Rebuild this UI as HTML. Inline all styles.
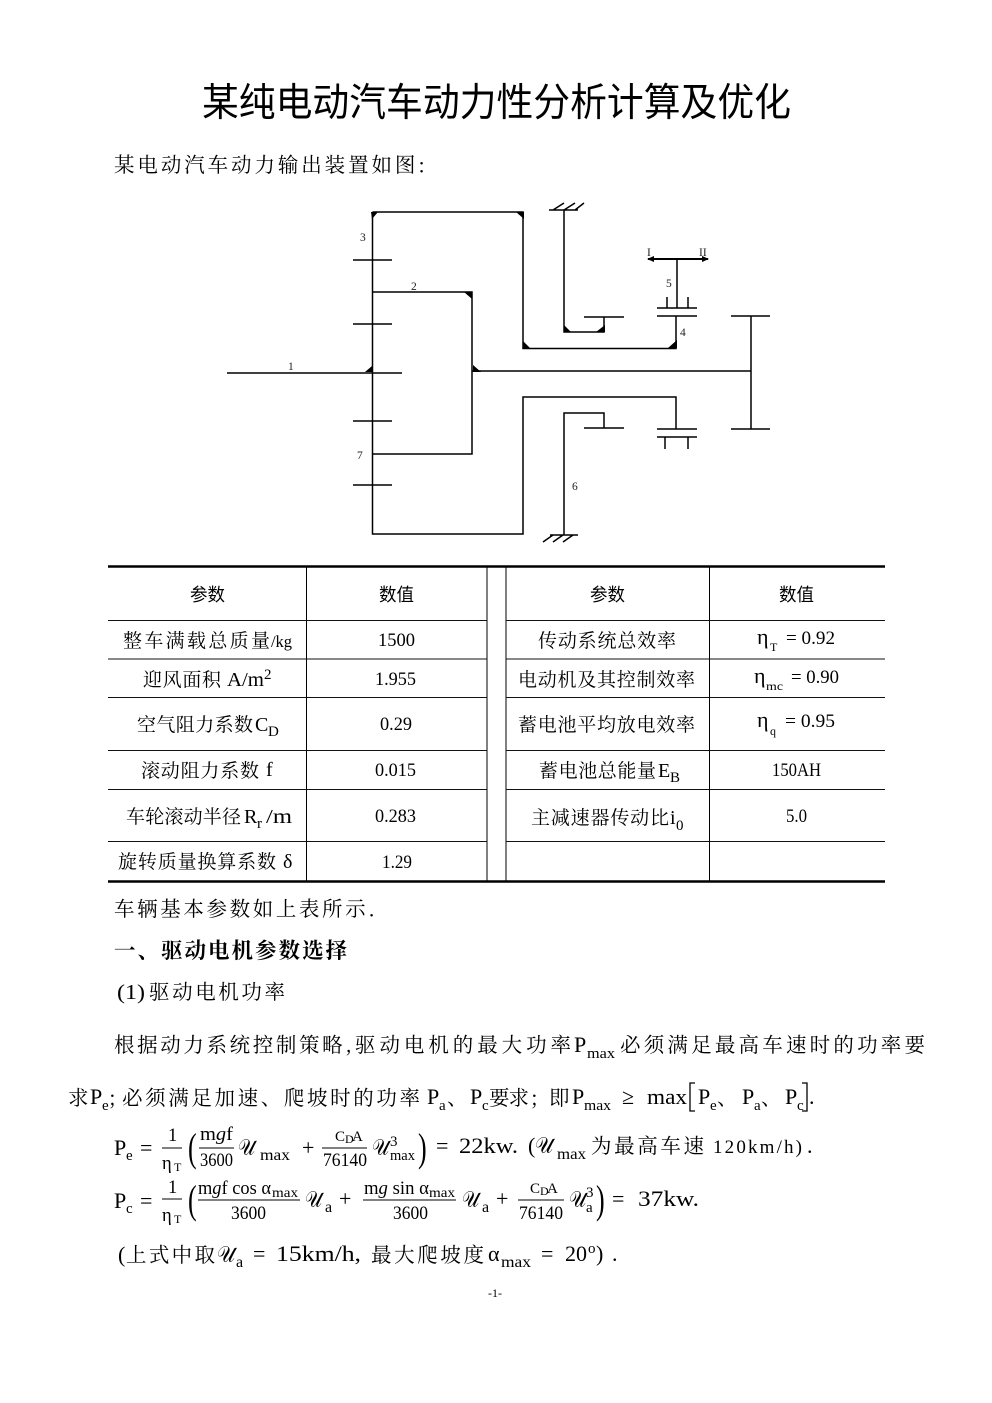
<!DOCTYPE html>
<html><head><meta charset="utf-8">
<style>
html,body{margin:0;padding:0;background:#fff}
svg{display:block}
text{fill:#000;font-family:"Liberation Serif","Noto Serif CJK SC",serif;font-size:22px}
.c{font-family:"Noto Serif CJK SC","Liberation Serif",serif;font-size:20.5px}
.t{font-family:"Noto Serif CJK SC","Liberation Serif",serif;font-size:19px}
.h{font-family:"Noto Sans CJK SC","Liberation Sans",sans-serif;font-size:18px}
.n{font-size:19px}
.la{font-size:20px}
.s{font-size:15px}
.ss{font-size:12px}
.f{font-size:18.5px}
.u{font-family:"DejaVu Serif","Liberation Serif",serif;font-size:23px}
.d{font-size:11.5px;fill:#222}
.l{stroke:#000;stroke-width:1.5;fill:none}
.r{stroke:#111;stroke-width:1.1}
</style></head>
<body>
<svg width="992" height="1403" viewBox="0 0 992 1403" xmlns="http://www.w3.org/2000/svg">
<rect width="992" height="1403" fill="#fff"/>
<text x="202" y="116" textLength="589" lengthAdjust="spacingAndGlyphs" style="font-family:'Noto Sans CJK SC','Liberation Sans',sans-serif;font-size:39px">某纯电动汽车动力性分析计算及优化</text>
<text class="c" x="114" y="172" textLength="311">某电动汽车动力输出装置如图:</text>

<!-- diagram -->
<g class="l">
<path d="M372.5 212H523V348.5H676V316"/>
<path d="M372.5 212V534H523V397H676V429"/>
<path d="M372.5 292H472V454H372.5"/>
<path d="M353 260H392M353 324H392M353 421H392M353 485H392"/>
<path d="M227 373H402"/>
<path d="M472 371H751"/>
<path d="M751 316V429M731 316H770M731 429H770"/>
<path d="M657 316H697M657 308H697M677 308V259"/>
<path d="M648 259H708" stroke-width="2"/>
<path d="M667 308V297M688 308V297"/>
<path d="M657 429H697M657 437H697M665 437V449M688 437V449"/>
<path d="M564 210V332H604V317M584 317H624"/>
<path d="M549 210H578M553 210L564 203M564 210L575 203M575 210L584 203"/>
<path d="M564 535V413H604V428M584 428H624"/>
<path d="M550 535H578M543 542L553 535M553 542L563 535M563 542L573 535"/>
</g>
<path d="M371 212H378L372 219ZM516 212H524V219ZM464 292H472V299ZM564 332V325L571 332ZM596 332H605V325ZM523 348V341L530 348ZM668 348H677V340ZM473 365V372H481ZM372 366V372H365Z" fill="#000"/>
<path d="M647 259L654 256V262ZM709 259L702 256V262Z" fill="#000"/>
<text class="d" x="360" y="241">3</text>
<text class="d" x="411" y="290">2</text>
<text class="d" x="288" y="370">1</text>
<text class="d" x="357" y="459">7</text>
<text class="d" x="572" y="490">6</text>
<text class="d" x="666" y="287">5</text>
<text class="d" x="680" y="336">4</text>
<text class="d" x="647" y="256">I</text>
<text class="d" x="699" y="256">II</text>

<!-- table -->
<g stroke="#000">
<path d="M108 566.5H885M108 881.5H885" stroke-width="2.4"/>
<path d="M306.5 566V881M487 566V881M506 566V881M709.5 566V881" stroke-width="1"/>
<path class="r" d="M108 620.5H487M506 620.5H885M108 659H487M506 659H885M108 697.5H487M506 697.5H885M108 750.5H487M506 750.5H885M108 789.5H487M506 789.5H885M108 841.5H487M506 841.5H885"/>
</g>
<text class="h" x="190" y="601" textLength="35" lengthAdjust="spacingAndGlyphs">参数</text>
<text class="h" x="379" y="601" textLength="35" lengthAdjust="spacingAndGlyphs">数值</text>
<text class="h" x="590" y="601" textLength="35" lengthAdjust="spacingAndGlyphs">参数</text>
<text class="h" x="779" y="601" textLength="35" lengthAdjust="spacingAndGlyphs">数值</text>

<text class="t" x="123" y="647" textLength="147">整车满载总质量</text>
<text class="la" x="271" y="647" textLength="21" style="font-size:16.5px">/kg</text>
<text class="n" x="378" y="646" textLength="37" lengthAdjust="spacingAndGlyphs">1500</text>
<text class="t" x="538" y="647" textLength="138">传动系统总效率</text>
<text x="757" y="644">η</text><text class="ss" x="770" y="651">T</text>
<text class="n" x="786" y="644" textLength="49" lengthAdjust="spacingAndGlyphs">= 0.92</text>

<text class="t" x="143" y="686" textLength="78">迎风面积</text>
<text class="la" x="227" y="686" textLength="37" lengthAdjust="spacingAndGlyphs">A/m</text><text class="s" x="264" y="679">2</text>
<text class="n" x="375" y="685" textLength="41" lengthAdjust="spacingAndGlyphs">1.955</text>
<text class="t" x="518" y="686" textLength="177">电动机及其控制效率</text>
<text x="754" y="683">η</text><text class="ss" x="766" y="690" textLength="17" lengthAdjust="spacingAndGlyphs">mc</text>
<text class="n" x="791" y="683" textLength="48" lengthAdjust="spacingAndGlyphs">= 0.90</text>

<text class="t" x="137" y="731" textLength="116">空气阻力系数</text>
<text class="la" x="255" y="731">C</text><text class="s" x="268" y="736">D</text>
<text class="n" x="380" y="730" textLength="32" lengthAdjust="spacingAndGlyphs">0.29</text>
<text class="t" x="518" y="731" textLength="177">蓄电池平均放电效率</text>
<text x="757" y="727">η</text><text class="ss" x="770" y="735">q</text>
<text class="n" x="785" y="727" textLength="50" lengthAdjust="spacingAndGlyphs">= 0.95</text>

<text class="t" x="141" y="777" textLength="118">滚动阻力系数</text>
<text class="la" x="266" y="776">f</text>
<text class="n" x="375" y="776" textLength="41" lengthAdjust="spacingAndGlyphs">0.015</text>
<text class="t" x="539" y="777" textLength="117">蓄电池总能量</text>
<text class="la" x="658" y="777">E</text><text class="s" x="670" y="782">B</text>
<text class="n" x="772" y="776" textLength="49" lengthAdjust="spacingAndGlyphs">150AH</text>

<text class="t" x="126" y="823" textLength="115">车轮滚动半径</text>
<text class="la" x="244" y="823">R</text><text class="s" x="257" y="828">r</text>
<text class="la" x="266" y="823" textLength="26" lengthAdjust="spacingAndGlyphs">/m</text>
<text class="n" x="375" y="822" textLength="41" lengthAdjust="spacingAndGlyphs">0.283</text>
<text class="t" x="531" y="824" textLength="138">主减速器传动比</text>
<text class="la" x="670" y="824">i</text><text class="s" x="676" y="830">0</text>
<text class="n" x="786" y="822" textLength="21" lengthAdjust="spacingAndGlyphs">5.0</text>

<text class="t" x="118" y="868" textLength="158">旋转质量换算系数</text>
<text class="la" x="283" y="868">δ</text>
<text class="n" x="382" y="868" textLength="30" lengthAdjust="spacingAndGlyphs">1.29</text>

<!-- body -->
<text class="c" x="114" y="916" textLength="261">车辆基本参数如上表所示.</text>
<text class="c" x="114" y="958" textLength="233" style="font-weight:700;font-size:21.5px">一、驱动电机参数选择</text>
<text x="117" y="999" textLength="28" style="font-size:21px" lengthAdjust="spacingAndGlyphs">(1)</text>
<text class="c" x="149" y="999" textLength="136">驱动电机功率</text>

<text class="c" x="114" y="1052" textLength="238">根据动力系统控制策略,</text>
<text class="c" x="355" y="1052" textLength="216">驱动电机的最大功率</text>
<text x="574" y="1052">P</text><text class="s" x="587" y="1058" textLength="28" lengthAdjust="spacingAndGlyphs">max</text>
<text class="c" x="620" y="1052" textLength="305">必须满足最高车速时的功率要</text>

<text class="c" x="68" y="1105">求</text>
<text x="90" y="1104">P</text><text class="s" x="102" y="1110">e</text>
<text class="c" x="109" y="1105">;</text>
<text class="c" x="122" y="1105" textLength="298">必须满足加速、爬坡时的功率</text>
<text x="427" y="1104">P</text><text class="s" x="439" y="1110">a</text>
<text class="c" x="447" y="1105">、</text>
<text x="470" y="1104">P</text><text class="s" x="482" y="1110">c</text>
<text class="c" x="489" y="1105" textLength="40">要求</text>
<text class="c" x="531" y="1105">;</text>
<text class="c" x="549" y="1105">即</text>
<text x="572" y="1104">P</text><text class="s" x="584" y="1110" textLength="27" lengthAdjust="spacingAndGlyphs">max</text>
<text x="622" y="1104">≥</text>
<text x="647" y="1104" textLength="40" lengthAdjust="spacingAndGlyphs">max</text>
<path d="M695 1083H690V1111H695" fill="none" stroke="#000" stroke-width="1.3"/>
<text x="698" y="1104">P</text><text class="s" x="710" y="1110">e</text>
<text class="c" x="717" y="1105">、</text>
<text x="742" y="1104">P</text><text class="s" x="754" y="1110">a</text>
<text class="c" x="761" y="1105">、</text>
<text x="785" y="1104">P</text><text class="s" x="797" y="1110">c</text>
<path d="M802 1083H807V1111H802" fill="none" stroke="#000" stroke-width="1.3"/>
<text x="809" y="1104">.</text>

<!-- formula 1 -->
<text x="114" y="1155">P</text><text class="s" x="126" y="1160">e</text>
<text x="140" y="1155">=</text>
<text class="f" x="168" y="1141">1</text>
<path d="M162 1148H182" stroke="#000"/>
<text class="f" x="162" y="1169">η</text><text class="ss" x="174" y="1171">T</text>
<text x="188" y="1161" style="font-size:40px" transform="translate(188 0) scale(.65 1) translate(-188 0)">(</text>
<text class="f" x="200" y="1140" textLength="33" lengthAdjust="spacingAndGlyphs">m<tspan font-style="italic">g</tspan>f</text>
<path d="M199 1148H234" stroke="#000"/>
<text class="f" x="200" y="1166" textLength="33" lengthAdjust="spacingAndGlyphs">3600</text>
<text class="u" x="238" y="1155" textLength="17" lengthAdjust="spacingAndGlyphs">𝒰</text>
<text class="s" x="260" y="1160" textLength="30" style="font-size:16px" lengthAdjust="spacingAndGlyphs">max</text>
<text x="302" y="1155">+</text>
<text class="s" x="335" y="1141">C</text><text class="ss" x="345" y="1143">D</text><text class="s" x="352" y="1141">A</text>
<path d="M322 1148H367" stroke="#000"/>
<text class="f" x="323" y="1166" textLength="44" lengthAdjust="spacingAndGlyphs">76140</text>
<text class="u" x="372" y="1155" textLength="17" lengthAdjust="spacingAndGlyphs">𝒰</text>
<text class="s" x="390" y="1146">3</text>
<text class="s" x="390" y="1160" textLength="25" lengthAdjust="spacingAndGlyphs">max</text>
<text x="418" y="1161" style="font-size:40px" transform="translate(418 0) scale(.65 1) translate(-418 0)">)</text>
<text x="436" y="1153">=</text>
<text x="459" y="1153" textLength="59" lengthAdjust="spacingAndGlyphs">22kw.</text>
<text x="528" y="1153">(</text>
<text class="u" x="535" y="1153" textLength="18" lengthAdjust="spacingAndGlyphs">𝒰</text>
<text class="s" x="557" y="1159" textLength="29" style="font-size:16px" lengthAdjust="spacingAndGlyphs">max</text>
<text class="c" x="591" y="1153" textLength="113">为最高车速</text>
<text x="713" y="1153" textLength="89" style="font-size:19px">120km/h)</text>
<text x="807" y="1153">.</text>

<!-- formula 2 -->
<text x="114" y="1208">P</text><text class="s" x="126" y="1213">c</text>
<text x="140" y="1208">=</text>
<text class="f" x="168" y="1193">1</text>
<path d="M162 1199H182" stroke="#000"/>
<text class="f" x="162" y="1221">η</text><text class="ss" x="174" y="1223">T</text>
<text x="188" y="1213" style="font-size:40px" transform="translate(188 0) scale(.65 1) translate(-188 0)">(</text>
<text class="f" x="198" y="1194" textLength="73" lengthAdjust="spacingAndGlyphs">m<tspan font-style="italic">g</tspan>f cos α</text><text class="ss" x="272" y="1197" textLength="26" style="font-size:14px" lengthAdjust="spacingAndGlyphs">max</text>
<path d="M198 1200H300" stroke="#000"/>
<text class="f" x="231" y="1219" textLength="35" lengthAdjust="spacingAndGlyphs">3600</text>
<text class="u" x="305" y="1207" textLength="17" lengthAdjust="spacingAndGlyphs">𝒰</text>
<text x="325" y="1212" style="font-size:16px">a</text>
<text x="339" y="1206">+</text>
<text class="f" x="364" y="1194" textLength="65" lengthAdjust="spacingAndGlyphs">m<tspan font-style="italic">g</tspan> sin α</text><text class="ss" x="429" y="1197" textLength="26" style="font-size:14px" lengthAdjust="spacingAndGlyphs">max</text>
<path d="M363 1200H456" stroke="#000"/>
<text class="f" x="393" y="1219" textLength="35" lengthAdjust="spacingAndGlyphs">3600</text>
<text class="u" x="462" y="1207" textLength="17" lengthAdjust="spacingAndGlyphs">𝒰</text>
<text x="482" y="1212" style="font-size:16px">a</text>
<text x="496" y="1206">+</text>
<text class="s" x="530" y="1193">C</text><text class="ss" x="540" y="1195">D</text><text class="s" x="547" y="1193">A</text>
<path d="M518 1200H564" stroke="#000"/>
<text class="f" x="519" y="1219" textLength="44" lengthAdjust="spacingAndGlyphs">76140</text>
<text class="u" x="569" y="1207" textLength="17" lengthAdjust="spacingAndGlyphs">𝒰</text>
<text class="s" x="586" y="1197">3</text><text class="s" x="586" y="1212">a</text>
<text x="596" y="1213" style="font-size:40px" transform="translate(596 0) scale(.65 1) translate(-596 0)">)</text>
<text x="612" y="1206">=</text>
<text x="638" y="1206" textLength="61" lengthAdjust="spacingAndGlyphs">37kw.</text>

<!-- line 3 -->
<text x="118" y="1262">(</text>
<text class="c" x="126" y="1262" textLength="89">上式中取</text>
<text class="u" x="217" y="1262" textLength="18" lengthAdjust="spacingAndGlyphs">𝒰</text>
<text x="236" y="1267" style="font-size:16px">a</text>
<text x="253" y="1261">=</text>
<text x="276" y="1261" textLength="85" lengthAdjust="spacingAndGlyphs">15km/h,</text>
<text class="c" x="371" y="1262" textLength="113">最大爬坡度</text>
<text x="488" y="1261">α</text>
<text class="s" x="501" y="1267" textLength="30" style="font-size:16px" lengthAdjust="spacingAndGlyphs">max</text>
<text x="541" y="1261">=</text>
<text x="565" y="1261" textLength="22" lengthAdjust="spacingAndGlyphs">20</text>
<text class="s" x="588" y="1253">o</text>
<text x="596" y="1261">)</text>
<text x="612" y="1261">.</text>

<text x="488" y="1297" style="font-size:12px">-1-</text>
</svg>
</body></html>
